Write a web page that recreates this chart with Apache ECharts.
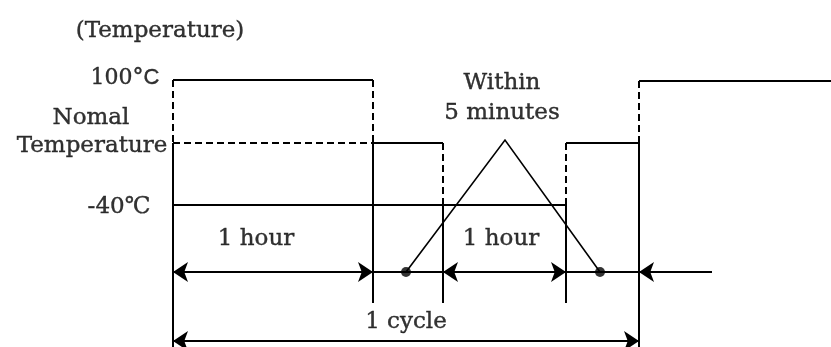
<!DOCTYPE html>
<html>
<head>
<meta charset="utf-8">
<script src="https://cdn.jsdelivr.net/npm/echarts@6/dist/echarts.min.js"></script>
<style>
  html, body { margin: 0; padding: 0; background: #fff; }
  #chart { width: 831px; height: 347px; }
</style>
</head>
<body>
<div id="chart"></div>
<script>
// diagram units: x = 0..831, y = 0..347 (top down)
// temperature profile, solid pieces
const solidPaths = [
  [[173, 80], [373, 80]],     // 100C, first hour
  [[373, 143], [443, 143]],   // normal temp
  [[173, 205], [566, 205]],   // -40C
  [[566, 143], [639, 143]],   // normal temp
  [[639, 81], [831, 81]],     // 100C, next cycle
  [[173, 143], [173, 347]],
  [[373, 143], [373, 303]],
  [[443, 205], [443, 303]],
  [[566, 205], [566, 303]],
  [[639, 143], [639, 347]],
  [[173, 272], [712, 272]]    // time line
];
// dashed guides
const dashedPaths = [
  [[173, 80], [173, 143]],
  [[173, 143], [373, 143]],
  [[373, 80], [373, 143]],
  [[443, 143], [443, 205]],
  [[566, 143], [566, 205]],
  [[639, 81], [639, 143]]
];
// transfer within 5 minutes
const triangle = [[406, 272], [505, 140], [600, 272]];
const dots = [[406, 272], [600, 272]];
// dimension arrows
const doubleArrows = [
  [[173, 272], [373, 272]],
  [[443, 272], [566, 272]],
  [[173, 341], [639, 341]]
];
const singleArrows = [
  [[712, 272], [639, 272]]
];
// texts: [text, x, y]
const labelTexts = [
  ['(Temperature)', 160, 31],
  ['Nomal', 91, 118],
  ['Temperature', 92, 146],
  ['-40℃', 119, 207],
  ['1 hour', 256, 239],
  ['1 hour', 501, 239],
  ['Within', 502, 83],
  ['5 minutes', 502, 113],
  ['1 cycle', 406, 322]
];
const tempTop = ['100°', 'C', 125, 78];

const chart = echarts.init(document.getElementById('chart'));
const serif = 'DejaVu Serif';

const option = {
  animation: false,
  grid: { left: 0, right: 0, top: 0, bottom: 0 },
  xAxis: { type: 'value', min: 0, max: 831, show: false },
  yAxis: { type: 'value', min: 0, max: 347, inverse: true, show: false },
  series: [
    {
      type: 'lines',
      coordinateSystem: 'cartesian2d',
      data: solidPaths.map(p => ({ coords: p })),
      lineStyle: { color: '#000', width: 2, opacity: 1 },
      symbol: 'none',
      silent: true
    },
    {
      type: 'lines',
      coordinateSystem: 'cartesian2d',
      data: dashedPaths.map(p => ({ coords: p })),
      lineStyle: { color: '#000', width: 2, type: [7, 4], opacity: 1 },
      symbol: 'none',
      silent: true
    },
    {
      type: 'lines',
      coordinateSystem: 'cartesian2d',
      polyline: true,
      data: [{ coords: triangle }],
      lineStyle: { color: '#000', width: 1.6, opacity: 1 },
      symbol: 'none',
      silent: true
    },
    {
      type: 'lines',
      coordinateSystem: 'cartesian2d',
      data: doubleArrows.map(p => ({ coords: p })),
      lineStyle: { color: '#000', width: 2, opacity: 1 },
      symbol: ['arrow', 'arrow'],
      symbolSize: 15,
      itemStyle: { color: '#000' },
      silent: true
    },
    {
      type: 'lines',
      coordinateSystem: 'cartesian2d',
      data: singleArrows.map(p => ({ coords: p })),
      lineStyle: { color: '#000', width: 2, opacity: 1 },
      symbol: ['none', 'arrow'],
      symbolSize: 15,
      itemStyle: { color: '#000' },
      silent: true
    },
    {
      type: 'scatter',
      data: dots,
      symbolSize: 10,
      itemStyle: { color: '#000' },
      silent: true
    },
    {
      type: 'scatter',
      symbolSize: 0,
      silent: true,
      data: labelTexts.map(t => ({ value: [t[1], t[2]], name: t[0] }))
        .concat([{
          value: [tempTop[2], tempTop[3]],
          name: tempTop[0] + tempTop[1],
          label: { formatter: '{a|' + tempTop[0] + '}{b|' + tempTop[1] + '}' }
        }]),
      label: {
        show: true,
        position: 'inside',
        formatter: '{b}',
        color: '#000',
        textBorderColor: '#000',
        textBorderWidth: 0.4,
        fontFamily: serif,
        fontSize: 23,
        rich: {
          a: { fontFamily: serif, fontSize: 22, color: '#000', textBorderColor: '#000', textBorderWidth: 0.4 },
          b: { fontFamily: 'Liberation Sans', fontSize: 22, color: '#000', textBorderColor: '#000', textBorderWidth: 0.4 }
        }
      }
    }
  ]
};

chart.setOption(option);
</script>
</body>
</html>
